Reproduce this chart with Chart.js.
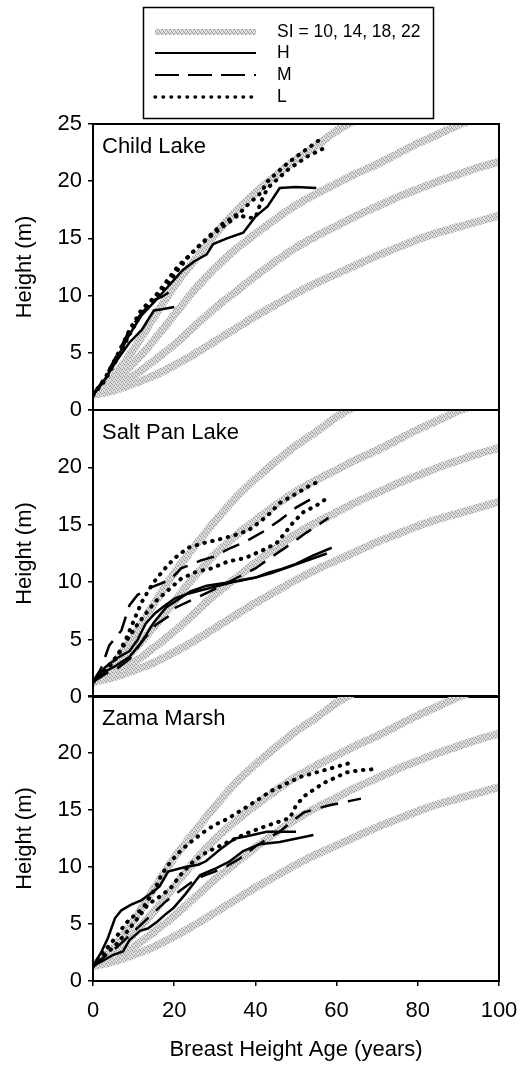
<!DOCTYPE html>
<html lang="en">
<head>
<meta charset="UTF-8">
<title>Height growth by site</title>
<script src="https://cdn.jsdelivr.net/npm/chart.js"></script>
<style>
  body { margin: 0; background: #fff; }
  #wrap { position: relative; width: 521px; height: 1066px; overflow: hidden; }
  canvas { position: absolute; left: 0; }
</style>
</head>
<body>
<div id="wrap">
  <canvas id="c1" width="521" height="440" style="top:0px"></canvas>
  <canvas id="c2" width="521" height="347" style="top:380px"></canvas>
  <canvas id="c3" width="521" height="400" style="top:666px"></canvas>
</div>
<script>
// site index curves (same in every panel), read at 5-year steps
const siAges = [0, 5, 10, 15, 20, 25, 30, 35, 40, 45, 50, 55, 60, 65, 70, 75, 80, 85, 90, 95, 100];
const si10 = [1.3, 1.7, 2.3, 3.0, 3.9, 4.9, 6.0, 7.1, 8.2, 9.2, 10.2, 11.1, 11.9, 12.7, 13.5, 14.2, 14.9, 15.5, 16.0, 16.5, 17.0];
const si14 = [1.3, 2.0, 3.0, 4.3, 5.7, 7.3, 8.9, 10.3, 11.7, 13.0, 14.2, 15.2, 16.1, 17.0, 17.8, 18.6, 19.3, 20.0, 20.6, 21.2, 21.7];
const si18 = [1.3, 2.5, 4.1, 6.1, 8.3, 10.5, 12.4, 14.0, 15.4, 16.7, 17.9, 18.9, 19.8, 20.7, 21.5, 22.4, 23.3, 24.1, 24.9, 25.6, 26.3];
const si22 = [1.3, 2.9, 5.3, 8.1, 10.8, 13.1, 15.3, 17.3, 19.0, 20.5, 21.9, 23.1, 24.4, 25.4, 26.3, 27.2, 28.0, 28.8, 29.5, 30.2, 30.8];

// Child Lake stem analysis trees [age, height]
const childH1 = [[0,1.3],[3,2.7],[6,4.4],[9,5.9],[12,7.0],[15,8.7],[17,8.8],[20,9.0]];
const childH2 = [[0,1.3],[3,2.7],[6,4.6],[9,6.6],[12,8.3],[15,9.4],[18,10.6],[20,11.4],[22,12.2],[25,13.0],[28,13.6],[29.6,14.5],[33,15.0],[37,15.5],[40,16.9],[43,17.8],[46,19.4],[50,19.5],[55,19.4]];
const childM1 = [[0,1.3],[3,2.9],[6,4.9],[9,7.0],[12,8.5],[15,9.6],[17,9.9],[20,10.6]];
const childL1 = [[0,1.3],[3,2.8],[6,4.8],[9,7.0],[12,8.8],[15,9.8],[18,11.2],[21,12.6],[23.4,13.4],[26,14.3],[28.3,15.0],[31.5,15.9],[35,16.8],[38,17.9],[41.4,19.0],[43,20.0],[48,21.6],[53,22.9],[56.5,23.8]];
const childL2 = [[0,1.3],[3,2.6],[6,4.5],[9,6.6],[12,8.5],[15,9.6],[18,10.8],[21,12.3],[24,13.6],[28,15.0],[32,16.3],[35.5,17.1],[38,16.8],[40,16.8],[41.5,18.3],[43,19.4],[48,21.0],[53,22.2],[57,22.9]];

// Salt Pan Lake
const saltH1 = [[0,1.3],[3,2.6],[6,3.4],[9,4.0],[11,5.0],[13,6.4],[15.3,7.3],[17.8,8.0],[20.2,8.6],[23.4,9.0],[26.6,9.3],[30,9.6],[33.3,9.9],[36.5,10.2],[40,10.4],[43,10.8],[46,11.1],[50,11.6],[54,12.3],[58.8,13.0]];
const saltH2 = [[0,1.3],[3,2.2],[6,2.8],[9,3.5],[12,4.8],[15,6.5],[18,7.8],[21,8.5],[24,9.2],[28,9.7],[32,9.9],[36,10.1],[40,10.4],[44,10.8],[48,11.3],[52,11.8],[57.6,12.5]];
const saltM1 = [[0,1.3],[2,2.5],[4,4.5],[7,5.8],[9,8.0],[11,8.9],[14,9.5],[19,10.2],[21.7,11.2],[26.6,11.9],[29.6,12.2],[34,13.0],[37.4,13.5],[42.4,14.5],[46,15.4],[50,16.5],[53.5,17.2]];
const saltM2 = [[0,1.3],[3,2.0],[6,2.5],[9,3.3],[12,4.8],[15.5,6.3],[18.5,7.0],[20.4,7.8],[25.9,8.7],[30,9.4],[35,10.3],[40,11.2],[44,12.2],[49,13.4],[52.5,14.3],[58,15.6]];
const saltL1 = [[0,1.3],[3,2.4],[6,3.6],[8.2,5.1],[10,6.6],[11.9,8.2],[13.7,9.3],[15.6,10.3],[18,11.3],[20.1,12.1],[23.4,13.0],[27.1,13.4],[30.8,13.7],[34.9,14.1],[38.2,14.5],[40.5,15.1],[43,15.8],[46,16.9],[50,17.7],[54.3,18.6],[56.5,18.8]];
const saltL2 = [[0,1.3],[3,2.2],[6,3.5],[7.9,4.7],[11.1,6.4],[15.3,8.3],[18.5,9.3],[21.7,10.3],[25.4,10.9],[29.1,11.2],[33.2,11.8],[37.4,12.1],[41.9,12.8],[45.2,13.4],[47.3,14.3],[49.3,15.2],[51.8,16.1],[55.1,16.7],[58,17.4]];

// Zama Marsh
const zamaH1 = [[0,1.3],[2,2.5],[3.7,3.8],[5.4,5.5],[7,6.2],[9.4,6.7],[12,7.1],[14.3,7.7],[16.4,8.3],[18.5,9.6],[22.7,10.0],[25.9,10.2],[27.8,10.5],[31.5,11.6],[35,12.5],[37.9,12.7],[42.8,13.1],[50,13.1]];
const zamaH2 = [[0,1.3],[3,1.9],[5,2.3],[7.4,2.6],[9,3.6],[11.6,4.4],[13.5,4.6],[15.8,5.2],[17.7,5.8],[19.8,6.4],[22.7,7.6],[26.4,9.3],[30.4,9.9],[33.7,10.5],[37,11.4],[41,12.0],[46,12.2],[54.3,12.8]];
const zamaM1 = [[0,1.3],[3,2.2],[6,3.0],[9,4.0],[12,5.0],[15,6.0],[18,7.0],[21,7.8],[24,8.6],[27,9.2],[30,9.6],[33,10.1],[36,10.7],[40,11.8],[44,12.7],[46,13.1],[49,14.0],[52,14.8],[58,15.4],[62,15.7],[66,16.0]];
const zamaL1 = [[0,1.3],[2,2.3],[4.4,3.3],[6.2,4.1],[7.9,5.0],[9.4,5.5],[12.3,6.4],[15.3,8.1],[17,9.4],[19.2,10.5],[21.5,11.4],[24.1,12.2],[27,13.0],[30,13.7],[33,14.2],[35.7,14.8],[38,15.3],[40.6,15.9],[44,16.7],[47.5,17.3],[51,17.9],[56,18.4],[60,18.8],[64,19.2]];
const zamaL2 = [[0,1.3],[3,2.3],[6,3.3],[9,4.6],[11,5.5],[13.5,6.7],[16,7.3],[19,8.1],[22,9.5],[25,10.6],[28,11.3],[31.5,11.9],[34,12.3],[37.4,12.9],[41.9,13.5],[46,14.0],[48.5,14.3],[50,15.4],[52,16.2],[54,16.7],[57,17.4],[60,17.9],[62.5,18.3],[66,18.5],[70,18.6]];

const legendLabels = ['SI = 10, 14, 18, 22', 'H', 'M', 'L'];
const panelNames = ['Child Lake', 'Salt Pan Lake', 'Zama Marsh'];
const yTicks = [0, 5, 10, 15, 20, 25];
const xTicks = [0, 20, 40, 60, 80, 100];

const FONT = "'Liberation Sans', Arial, sans-serif";
Chart.defaults.font.family = FONT;
Chart.defaults.color = '#000';

// halftone grey like the printed band
function halftone() {
  const c = document.createElement('canvas');
  c.width = 4; c.height = 4;
  const g = c.getContext('2d');
  g.fillStyle = '#d6d6d6'; g.fillRect(0, 0, 4, 4);
  g.fillStyle = '#9a9a9a';
  g.fillRect(0, 0, 1, 1); g.fillRect(2, 1, 1, 1); g.fillRect(1, 2, 1, 1); g.fillRect(3, 3, 1, 1);
  g.fillStyle = '#eeeeee';
  g.fillRect(2, 3, 1, 1); g.fillRect(0, 2, 1, 1);
  return g.createPattern(c, 'repeat');
}
const grey = halftone();

const styles = {
  SI: { borderColor: grey, borderWidth: 8, cubicInterpolationMode: 'monotone', order: 10 },
  H: { borderColor: '#000', borderWidth: 2.5, order: 1 },
  M: { borderColor: '#000', borderWidth: 2.5, borderDash: [18, 10], order: 1 },
  L: { borderColor: '#000', borderWidth: 4, borderDash: [0.5, 7.5], borderCapStyle: 'round', order: 1 }
};

const panelDecor = {
  id: 'panelDecor',
  afterDatasetsDraw(chart, args, opts) {
    const ctx = chart.ctx, a = chart.chartArea;
    ctx.save();
    ctx.strokeStyle = '#000';
    ctx.lineWidth = 2;
    ctx.strokeRect(a.left, a.top, a.right - a.left, a.bottom - a.top);
    ctx.fillStyle = '#000';
    ctx.font = '22px ' + FONT;
    ctx.textBaseline = 'alphabetic';
    ctx.fillText(opts.label, a.left + 9, a.top + 29);
    ctx.restore();
  }
};

const legendBox = {
  id: 'legendBox',
  afterDraw(chart) {
    const ctx = chart.ctx;
    ctx.save();
    ctx.strokeStyle = '#000';
    ctx.lineWidth = 1.5;
    ctx.strokeRect(143.5, 7.5, 290, 111);
    const rows = [32, 53, 75, 97];
    const kinds = ['SI', 'H', 'M', 'L'];
    kinds.forEach((k, i) => {
      const y = rows[i];
      const s = styles[k];
      ctx.beginPath();
      ctx.strokeStyle = s.borderColor;
      ctx.lineWidth = k === 'SI' ? 6 : (k === 'L' ? 3.5 : 2);
      ctx.setLineDash(k === 'M' ? [24, 9] : (k === 'L' ? [0.5, 7.5] : []));
      ctx.lineCap = k === 'L' ? 'round' : 'butt';
      ctx.moveTo(155, y);
      ctx.lineTo(256, y);
      ctx.stroke();
      ctx.setLineDash([]);
      ctx.fillStyle = '#000';
      ctx.font = '17.5px ' + FONT;
      ctx.textBaseline = 'middle';
      ctx.fillText(legendLabels[i], 277, y);
    });
    ctx.restore();
  }
};

function pts(arr) {
  return arr.map(p => ({ x: p[0], y: p[1] }));
}

function makeChart(id, name, lines, opts) {
  const datasets = [si10, si14, si18, si22].map(c => Object.assign({
    data: siAges.map((a, i) => ({ x: a, y: c[i] })), pointRadius: 0
  }, styles.SI));
  lines.forEach(l => {
    datasets.push(Object.assign({ data: pts(l[1]), pointRadius: 0, tension: 0 }, styles[l[0]]));
  });

  const plugins = [panelDecor];
  if (opts.legend) plugins.push(legendBox);

  return new Chart(document.getElementById(id), {
    type: 'line',
    data: { datasets },
    plugins,
    options: {
      responsive: false,
      animation: false,
      events: [],
      layout: { padding: { top: opts.padTop, bottom: opts.padBottom, left: 0, right: 22 } },
      plugins: {
        legend: { display: false },
        tooltip: { enabled: false },
        panelDecor: { label: name }
      },
      scales: {
        x: {
          type: 'linear',
          min: 0, max: 100,
          display: opts.showX,
          afterBuildTicks: s => { s.ticks = xTicks.map(v => ({ value: v })); },
          grid: { drawOnChartArea: false, tickLength: 5, color: '#000', lineWidth: 1.5 },
          border: { display: false },
          ticks: { padding: 12, font: { size: 22 }, color: '#000', maxRotation: 0 },
          title: { display: true, text: 'Breast Height Age (years)', font: { size: 22 }, color: '#000', padding: { top: 0, bottom: 3 } },
          afterFit: s => {
            s.height = opts.showX ? 85 : 0;
            s.paddingLeft = 0;
            s.paddingRight = 0;
          }
        },
        y: {
          type: 'linear',
          min: 0, max: 25,
          afterBuildTicks: s => { s.ticks = yTicks.map(v => ({ value: v })); },
          grid: { drawOnChartArea: false, tickLength: 5, color: '#000', lineWidth: 1.5 },
          border: { display: false },
          ticks: {
            padding: 6, font: { size: 22 }, color: '#000',
            callback: v => (opts.hideTop && v === 25) ? '' : v
          },
          title: { display: true, text: 'Height (m)', font: { size: 22 }, color: '#000', padding: { top: 12, bottom: 0 } },
          afterFit: s => { s.width = 93; }
        }
      }
    }
  });
}

makeChart('c1', panelNames[0], [
  ['H', childH1], ['H', childH2], ['M', childM1], ['L', childL1], ['L', childL2]
], { padTop: 124, padBottom: 30, showX: false, hideTop: false, legend: true });

makeChart('c2', panelNames[1], [
  ['H', saltH1], ['H', saltH2], ['M', saltM1], ['M', saltM2], ['L', saltL1], ['L', saltL2]
], { padTop: 30, padBottom: 30, showX: false, hideTop: true });

makeChart('c3', panelNames[2], [
  ['H', zamaH1], ['H', zamaH2], ['M', zamaM1], ['L', zamaL1], ['L', zamaL2]
], { padTop: 30, padBottom: 0, showX: true, hideTop: true });
</script>
</body>
</html>
